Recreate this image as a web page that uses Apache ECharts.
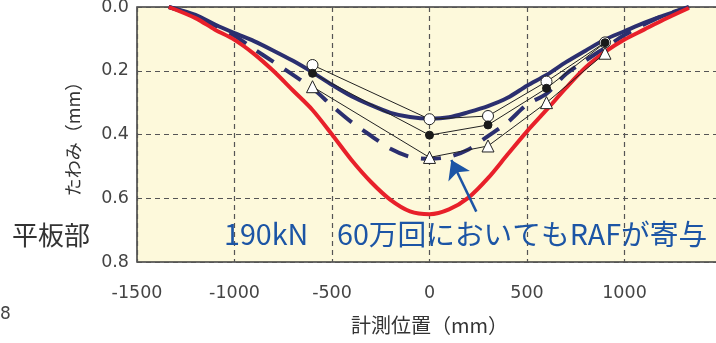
<!DOCTYPE html>
<html>
<head>
<meta charset="utf-8">
<script src="https://cdn.jsdelivr.net/npm/echarts@6/dist/echarts.min.js"></script>
<style>
html,body{margin:0;padding:0;background:#fff;}
#chart{width:716px;height:343px;}
</style>
</head>
<body>
<div id="chart"></div>
<script>
// ---- data ----
const xTickLabels = ['-1500', '-1000', '-500', '0', '500', '1000'];
const yTickLabels = ['0.0', '0.2', '0.4', '0.6', '0.8'];

const curveX = [-1337, -1200, -1100, -1000, -900, -800, -700, -600, -500, -400, -300, -200, -100, 0,
                100, 200, 300, 400, 500, 600, 700, 800, 900, 1000, 1100, 1200, 1330];
const redY = [0.0, 0.035, 0.071, 0.103, 0.147, 0.201, 0.262, 0.323, 0.400, 0.480, 0.549, 0.605, 0.641, 0.650,
              0.635, 0.598, 0.537, 0.463, 0.390, 0.323, 0.254, 0.190, 0.141, 0.102, 0.071, 0.040, 0.003];
const navySolidY = [0.0, 0.025, 0.055, 0.082, 0.107, 0.137, 0.169, 0.205, 0.244, 0.280, 0.308, 0.332, 0.345, 0.350,
                    0.346, 0.330, 0.311, 0.285, 0.247, 0.213, 0.173, 0.137, 0.102, 0.076, 0.050, 0.027, 0.001];
const navyDashY = [0.0, 0.028, 0.058, 0.090, 0.132, 0.172, 0.213, 0.255, 0.310, 0.361, 0.404, 0.445, 0.470, 0.476,
                   0.470, 0.447, 0.405, 0.362, 0.306, 0.272, 0.210, 0.168, 0.128, 0.088, 0.055, 0.027, 0.0];

const measX = [-600, 0, 300, 600, 900];
const openCircleY = [0.182, 0.352, 0.342, 0.234, 0.111];
const filledCircleY = [0.208, 0.402, 0.370, 0.255, 0.112];
const triangleY = [0.250, 0.472, 0.436, 0.300, 0.145];

// arrow annotation (data coordinates: tail -> head)
const arrowTail = [240, 0.642];
const arrowHead = [112, 0.480];

const xMin = -1500, xMax = 1500, xInterval = 500;
const yMin = 0, yMax = 0.8, yInterval = 0.2;

const pairs = (xs, ys) => xs.map((x, i) => [x, ys[i]]);

const chart = echarts.init(document.getElementById('chart'), null, {renderer: 'canvas'});
const numFont = 'DejaVu Sans';
const jpFont = '"Noto Sans CJK JP"';

chart.setOption({
  animation: false,
  backgroundColor: '#ffffff',
  grid: {
    left: 137, top: 7, width: 585, height: 255,
    outerBoundsMode: 'none',
    containLabel: false,
    show: true,
    backgroundColor: '#fdf9db',
    borderColor: '#3a3a3a',
    borderWidth: 1.5
  },
  xAxis: {
    type: 'value',
    min: xMin, max: xMax, interval: xInterval,
    name: '計測位置（mm）',
    nameLocation: 'middle',
    nameGap: 53,
    nameTextStyle: {fontFamily: jpFont, fontSize: 20, color: '#333'},
    axisLine: {show: false},
    axisTick: {show: false},
    axisLabel: {
      margin: 22,
      fontFamily: numFont, fontSize: 17.5, color: '#444',
      formatter: v => xTickLabels[Math.round((v - xMin) / xInterval)] || ''
    },
    splitLine: {show: true, lineStyle: {color: '#555', width: 1.2, type: [5, 4]}}
  },
  yAxis: {
    type: 'value',
    inverse: true,
    min: yMin, max: yMax, interval: yInterval,
    name: 'たわみ（mm）',
    nameLocation: 'middle',
    nameGap: 55,
    nameTextStyle: {fontFamily: jpFont, fontSize: 18, color: '#333'},
    axisLine: {show: false},
    axisTick: {show: false},
    axisLabel: {
      margin: 8,
      fontFamily: numFont, fontSize: 17.5, color: '#444',
      formatter: v => yTickLabels[Math.round((v - yMin) / yInterval)] || ''
    },
    splitLine: {show: true, lineStyle: {color: '#555', width: 1.2, type: [5, 4]}}
  },
  series: [
    {
      name: 'navySolid', type: 'line', data: pairs(curveX, navySolidY),
      smooth: 0.3, showSymbol: false, z: 2,
      lineStyle: {color: '#2b2f6f', width: 4}
    },
    {
      name: 'navyDash', type: 'line', data: pairs(curveX, navyDashY),
      smooth: 0.3, showSymbol: false, z: 2,
      lineStyle: {color: '#2b2f6f', width: 4, type: [20, 13]}
    },
    {
      name: 'red', type: 'line', data: pairs(curveX, redY),
      smooth: 0.3, showSymbol: false, z: 3,
      lineStyle: {color: '#e8202a', width: 4},
      markLine: {
        silent: true,
        symbol: ['none', 'arrow'],
        symbolSize: 18,
        label: {show: false},
        lineStyle: {color: '#1c55a5', width: 2.5, type: 'solid'},
        itemStyle: {color: '#1c55a5'},
        data: [[{coord: arrowTail}, {coord: arrowHead}]]
      }
    },
    {
      name: 'triangle', type: 'line', data: pairs(measX, triangleY),
      symbol: 'triangle', symbolSize: 12, showAllSymbol: true, z: 5,
      lineStyle: {color: '#222', width: 1},
      itemStyle: {color: '#ffffff', borderColor: '#222', borderWidth: 1}
    },
    {
      name: 'filled', type: 'line', data: pairs(measX, filledCircleY),
      symbol: 'circle', symbolSize: 8, showAllSymbol: true, z: 5,
      lineStyle: {color: '#222', width: 1},
      itemStyle: {color: '#1a1a1a', borderColor: '#1a1a1a', borderWidth: 1}
    },
    {
      name: 'open', type: 'line', data: pairs(measX, openCircleY),
      symbol: 'circle', symbolSize: 11, showAllSymbol: true, z: 4,
      lineStyle: {color: '#222', width: 1},
      itemStyle: {color: '#ffffff', borderColor: '#222', borderWidth: 1}
    }
  ],
  graphic: [
    {type: 'text', left: 12, top: 222, z: 10,
     style: {text: '平板部', fontFamily: jpFont, fontSize: 26, fill: '#333'}},
    {type: 'text', left: 224, top: 220, z: 10,
     style: {text: '190kN　60万回においてもRAFが寄与', fontFamily: jpFont, fontSize: 28.7, fill: '#1c55a5'}},
    {type: 'text', left: 0, top: 306, z: 10,
     style: {text: '8', fontFamily: numFont, fontSize: 17, fill: '#444'}}
  ]
});
</script>
</body>
</html>
